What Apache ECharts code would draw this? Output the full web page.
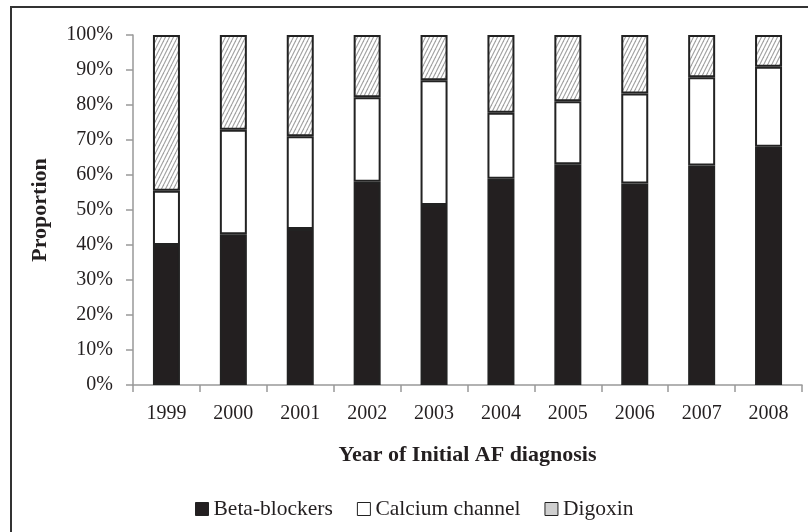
<!DOCTYPE html>
<html><head><meta charset="utf-8">
<script src="https://cdn.jsdelivr.net/npm/echarts@6/dist/echarts.min.js"></script>
<style>html,body{margin:0;padding:0;background:#fff}#c{width:808px;height:532px}</style>
</head><body><div id="c"></div>
<script>
var years = ['1999','2000','2001','2002','2003','2004','2005','2006','2007','2008'];
var betaBlockers = [40, 43.1, 44.6, 58.1, 51.4, 58.9, 63.1, 57.6, 62.7, 68.1];
var calciumChannel = [15.5, 29.8, 26.5, 24.1, 35.7, 18.9, 18.0, 25.7, 25.2, 22.8];
var digoxin = [44.5, 27.1, 28.9, 17.8, 12.9, 22.2, 18.9, 16.7, 12.1, 9.1];
var yTicks = [0,10,20,30,40,50,60,70,80,90,100];

var cv = document.createElement('canvas');
cv.width = 4; cv.height = 8;
var ctx = cv.getContext('2d');
ctx.fillStyle = '#ffffff'; ctx.fillRect(0,0,4,8);
ctx.strokeStyle = '#a0a0a0'; ctx.lineWidth = 1.1;
[-4,0,4].forEach(function(dx){ ctx.beginPath(); ctx.moveTo(dx,8); ctx.lineTo(dx+4,0); ctx.stroke(); });

var font = 'Liberation Serif';
var chart = echarts.init(document.getElementById('c'), null, {renderer:'canvas'});
var barBorder = {borderColor:'#222', borderWidth:2};
chart.setOption({
  animation:false,
  textStyle:{fontFamily:font},
  graphic:[{type:'rect', shape:{x:11,y:7,width:820,height:560}, style:{fill:'none', stroke:'#333', lineWidth:2}, silent:true}],
  grid:{left:133, right:6, top:35, bottom:147},
  legend:{
    top:493, left:190, itemWidth:13, itemHeight:13, itemGap:24,
    icon:'rect',
    textStyle:{fontFamily:font, fontSize:21.5, color:'#231f20'},
    data:[
      {name:'Beta-blockers', itemStyle:{color:'#231f20', borderColor:'#222', borderWidth:1}},
      {name:'Calcium channel', itemStyle:{color:'#fff', borderColor:'#222', borderWidth:1}},
      {name:'Digoxin', itemStyle:{color:'#cfcfcf', borderColor:'#222', borderWidth:1}}
    ]
  },
  xAxis:{
    type:'category', data:years,
    name:'Year of Initial AF diagnosis', nameLocation:'middle', nameGap:59,
    nameTextStyle:{fontFamily:font, fontSize:22, fontWeight:'bold', color:'#231f20'},
    axisLine:{lineStyle:{color:'#999', width:1.5}},
    axisTick:{show:true, length:7, lineStyle:{color:'#999', width:1.5}},
    axisLabel:{fontFamily:font, fontSize:20, color:'#231f20', margin:19}
  },
  yAxis:{
    type:'value', min:0, max:100, interval:10,
    name:'Proportion', nameLocation:'middle', nameGap:82,
    nameTextStyle:{fontFamily:font, fontSize:22, fontWeight:'bold', color:'#231f20'},
    splitLine:{show:false},
    axisLine:{show:true, lineStyle:{color:'#999', width:1.5}},
    axisTick:{show:true, length:7, lineStyle:{color:'#999', width:1.5}},
    axisLabel:{fontFamily:font, fontSize:20, color:'#231f20', margin:20,
      formatter:function(v){ return yTicks.indexOf(v) >= 0 ? v + '%' : ''; }}
  },
  series:[
    {name:'Beta-blockers', type:'bar', stack:'a', barWidth:27, data:betaBlockers,
      itemStyle:Object.assign({color:'#231f20'}, barBorder)},
    {name:'Calcium channel', type:'bar', stack:'a', barWidth:27, data:calciumChannel,
      itemStyle:Object.assign({color:'#ffffff'}, barBorder)},
    {name:'Digoxin', type:'bar', stack:'a', barWidth:27, data:digoxin,
      itemStyle:Object.assign({color:{image:cv, repeat:'repeat'}}, barBorder)}
  ]
});
</script></body></html>
